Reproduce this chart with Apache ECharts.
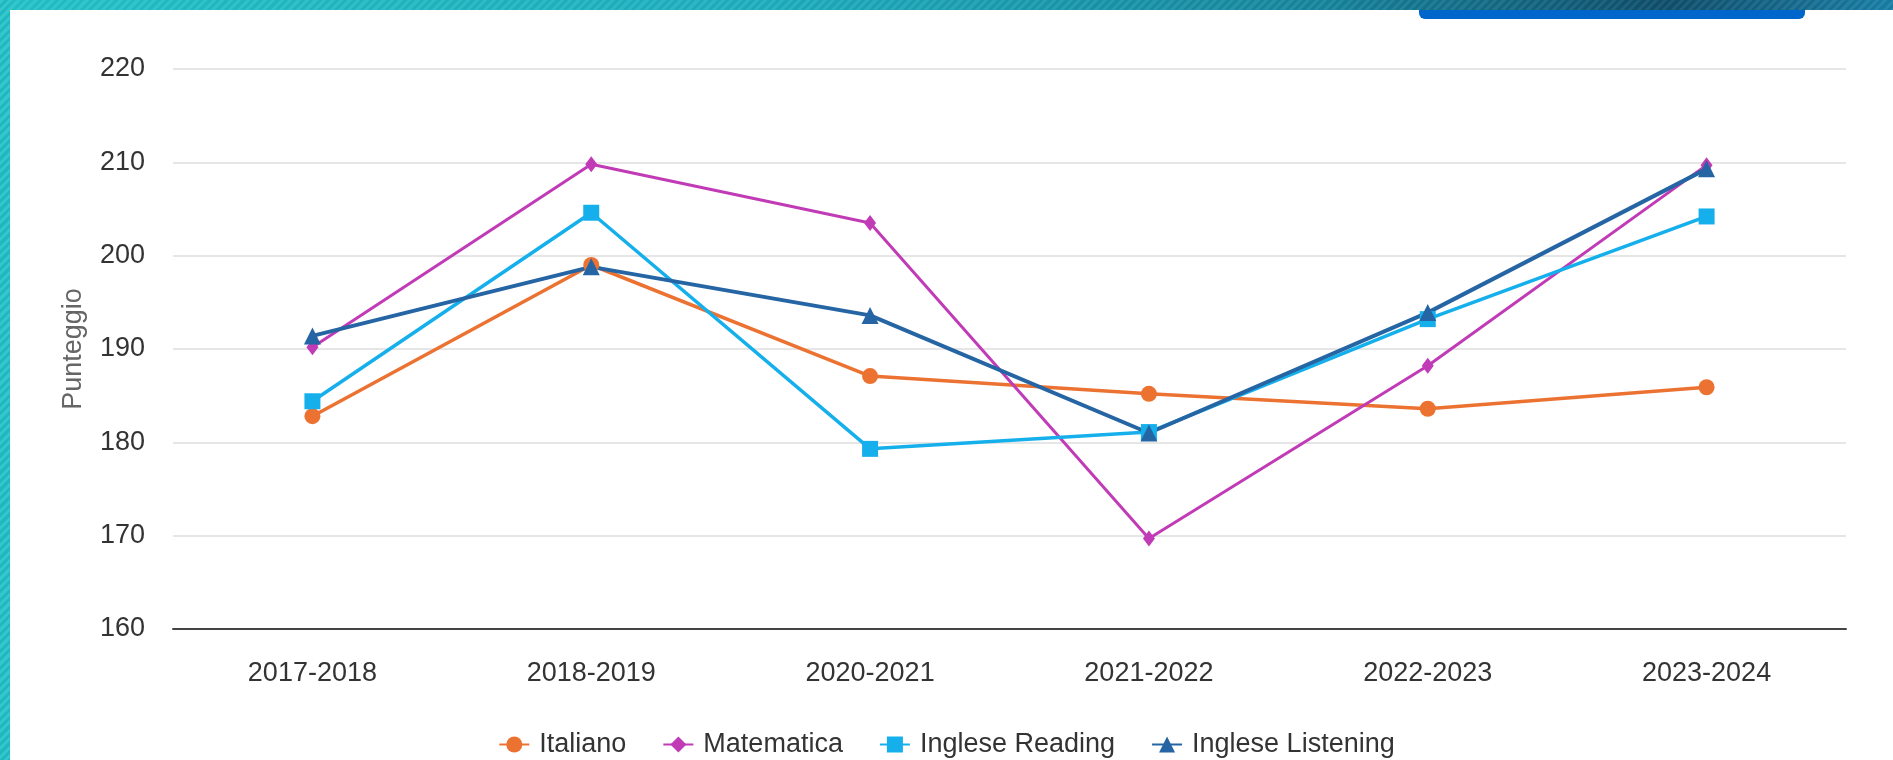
<!DOCTYPE html>
<html>
<head>
<meta charset="utf-8">
<script src="https://cdn.jsdelivr.net/npm/echarts@6/dist/echarts.min.js"></script>
<style>
  html, body { margin: 0; padding: 0; background: #ffffff; overflow: hidden; }
  #frameTop {
    position: absolute; left: 0; top: 0; width: 1893px; height: 10px;
    background:
      repeating-linear-gradient(135deg, rgba(255,255,255,0.06) 0 3px, rgba(0,0,0,0.04) 3px 6px),
      linear-gradient(90deg, #24c3c9 0%, #1fb0c0 40%, #17869e 70%, #104f6c 88%, #1a80a8 100%);
  }
  #frameLeft {
    position: absolute; left: 0; top: 0; width: 10px; height: 760px;
    background:
      repeating-linear-gradient(135deg, rgba(255,255,255,0.08) 0 3px, rgba(0,0,0,0.05) 3px 6px),
      #22c1c8;
  }
  #tab {
    position: absolute; left: 1419px; top: 10px; width: 386px; height: 9px;
    background: #0066cc; border-radius: 0 0 6px 6px;
  }
  #chart { position: absolute; left: 0; top: 0; width: 1893px; height: 760px; }
</style>
</head>
<body>
<div id="frameTop"></div>
<div id="frameLeft"></div>
<div id="tab"></div>
<div id="chart"></div>
<script>
const years = ['2017-2018', '2018-2019', '2020-2021', '2021-2022', '2022-2023', '2023-2024'];
const italiano = [182.8, 199.0, 187.1, 185.2, 183.6, 185.9];
const matematica = [190.2, 209.8, 203.5, 169.7, 188.2, 209.7];
const ingleseReading = [184.4, 204.6, 179.3, 181.1, 193.2, 204.2];
const ingleseListening = [191.4, 198.8, 193.6, 181.0, 193.9, 209.3];

const chartInstance = echarts.init(document.getElementById('chart'));

const font = 'Liberation Sans, Arial, sans-serif';

const option = {
  animation: false,
  backgroundColor: 'transparent',
  textStyle: { fontFamily: font },
  grid: {
    left: 173,
    right: 47,
    top: 69,
    bottom: 131,
  },
  legend: {
    top: 726,
    left: 'center',
    itemWidth: 30,
    itemHeight: 20,
    itemGap: 36,
    textStyle: {
      color: '#333333',
      fontSize: 27,
      fontFamily: font,
      padding: [0, 0, 0, 5],
    },
    data: ['Italiano', 'Matematica', 'Inglese Reading', 'Inglese Listening'],
  },
  xAxis: {
    type: 'category',
    data: years,
    boundaryGap: true,
    axisLine: {
      lineStyle: { color: '#444444', width: 2 },
    },
    axisTick: { show: false },
    axisLabel: {
      color: '#333333',
      fontSize: 27,
      margin: 31,
    },
  },
  yAxis: {
    type: 'value',
    min: 160,
    max: 220,
    interval: 10,
    name: 'Punteggio',
    nameLocation: 'middle',
    nameGap: 86,
    nameTextStyle: {
      color: '#666666',
      fontSize: 27,
    },
    axisLine: { show: false },
    axisTick: { show: false },
    axisLabel: {
      color: '#333333',
      fontSize: 27,
      margin: 28,
    },
    splitLine: {
      lineStyle: { color: '#e6e6e6', width: 2 },
    },
  },
  series: [
    {
      name: 'Italiano',
      type: 'line',
      data: italiano,
      symbol: 'circle',
      symbolSize: 16,
      lineStyle: { color: '#ec7232', width: 3.5 },
      itemStyle: { color: '#ec7232' },
    },
    {
      name: 'Matematica',
      type: 'line',
      data: matematica,
      symbol: 'diamond',
      symbolSize: [12, 16],
      lineStyle: { color: '#c13bb7', width: 3 },
      itemStyle: { color: '#c13bb7' },
    },
    {
      name: 'Inglese Reading',
      type: 'line',
      data: ingleseReading,
      symbol: 'rect',
      symbolSize: 16,
      lineStyle: { color: '#15b0ec', width: 3.5 },
      itemStyle: { color: '#15b0ec' },
    },
    {
      name: 'Inglese Listening',
      type: 'line',
      data: ingleseListening,
      symbol: 'triangle',
      symbolSize: 17,
      lineStyle: { color: '#2565a4', width: 4 },
      itemStyle: { color: '#2565a4' },
    },
  ],
};

chartInstance.setOption(option);
</script>
</body>
</html>
